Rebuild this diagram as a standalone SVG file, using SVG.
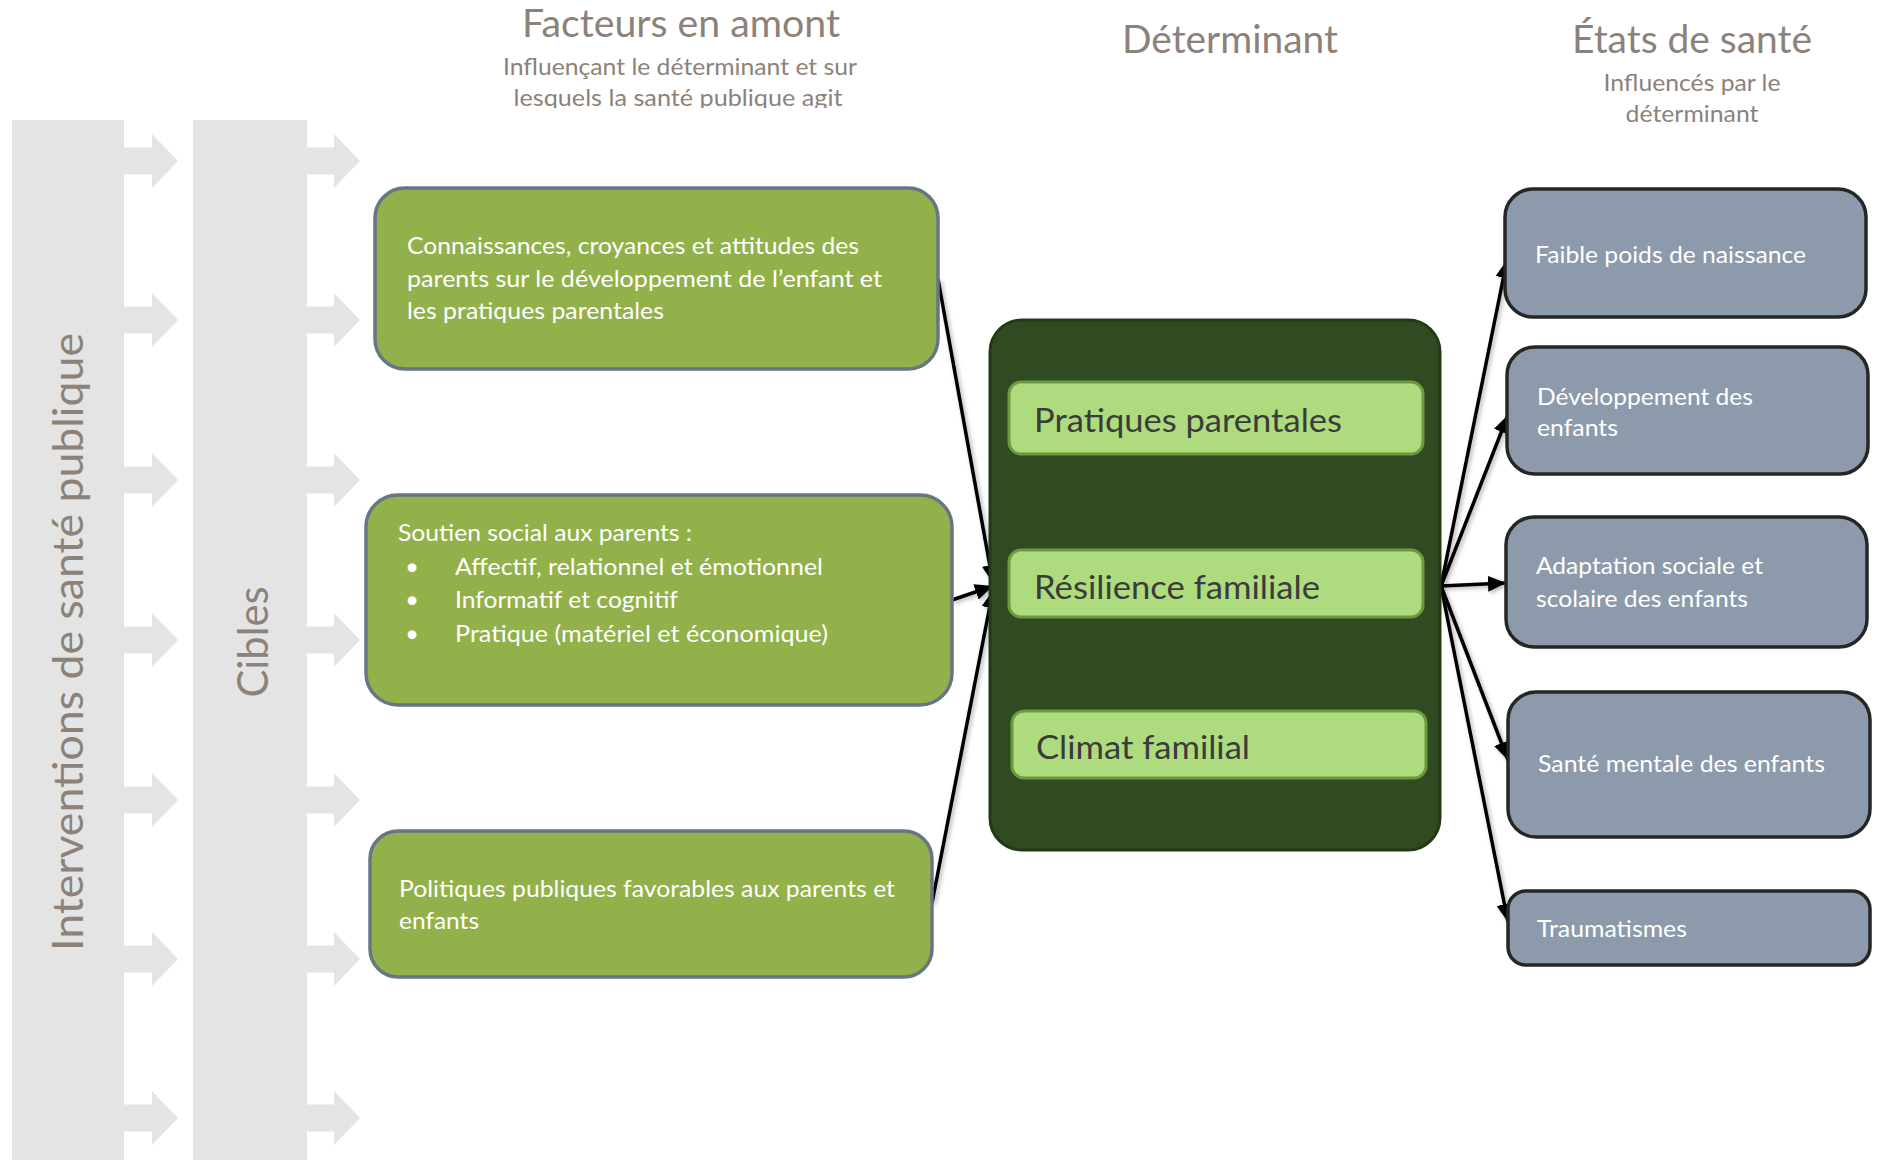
<svg xmlns="http://www.w3.org/2000/svg" width="1877" height="1160" viewBox="0 0 1877 1160">
  <style>
    .band { fill: #e4e4e4; }
    .title { font-family: Lato, "Open Sans", sans-serif; font-size: 38px; fill: #8c8279; text-anchor: middle; }
    .sub { font-family: Lato, "Open Sans", sans-serif; font-size: 23.5px; fill: #8c8279; text-anchor: middle; }
    .vert { font-family: Lato, "Open Sans", sans-serif; font-size: 42.5px; fill: #8c8279; text-anchor: middle; }
    .up { fill: #93b14a; stroke: #687585; stroke-width: 3.5; }
    .out { fill: #8d9aab; stroke: #262626; stroke-width: 3.5; }
    .det { fill: #304a21; stroke: #243a17; stroke-width: 3; }
    .inner { fill: #addb7d; stroke: #6c9a3e; stroke-width: 3; }
    .wt { font-family: Lato, "Open Sans", sans-serif; font-size: 23.5px; fill: #ffffff; }
    .dt { font-family: Lato, "Open Sans", sans-serif; font-size: 33px; fill: #3b3b3b; }
    .link { fill: none; stroke: #000000; stroke-width: 3.5; marker-end: url(#head); }
  </style>
  <defs>
    <marker id="head" markerUnits="userSpaceOnUse" markerWidth="20" markerHeight="16" refX="18" refY="8" orient="auto">
      <path d="M0,0 L18,8 L0,16 z" fill="#000000"/>
    </marker>
    <filter id="shade" x="-20%" y="-20%" width="140%" height="140%">
      <feDropShadow dx="2" dy="2" stdDeviation="2" flood-color="#000000" flood-opacity="0.3"/>
    </filter>
    <clipPath id="subclip">
      <rect x="400" y="0" width="560" height="108"/>
    </clipPath>
  </defs>

  <rect width="1877" height="1160" fill="#ffffff"/>

  <!-- Interventions band with its arrows -->
  <g id="interventions">
    <path class="band" d="M12,120 H124 V1160 H12 Z
      M124,147.5 H152 V134 L178,161 L152,188 V174.5 H124 Z
      M124,306.5 H152 V293 L178,320 L152,347 V333.5 H124 Z
      M124,466.5 H152 V453 L178,480 L152,507 V493.5 H124 Z
      M124,626.5 H152 V613 L178,640 L152,667 V653.5 H124 Z
      M124,786.5 H152 V773 L178,800 L152,827 V813.5 H124 Z
      M124,945.5 H152 V932 L178,959 L152,986 V972.5 H124 Z
      M124,1104.5 H152 V1091 L178,1118 L152,1145 V1131.5 H124 Z"/>
    <text class="vert" transform="translate(83,642) rotate(-90)" textLength="618" lengthAdjust="spacingAndGlyphs">Interventions de santé publique</text>
  </g>

  <!-- Cibles band with its arrows -->
  <g id="cibles">
    <path class="band" d="M193,120 H307 V1160 H193 Z
      M307,147.5 H334 V134 L360,161 L334,188 V174.5 H307 Z
      M307,306.5 H334 V293 L360,320 L334,347 V333.5 H307 Z
      M307,466.5 H334 V453 L360,480 L334,507 V493.5 H307 Z
      M307,626.5 H334 V613 L360,640 L334,667 V653.5 H307 Z
      M307,786.5 H334 V773 L360,800 L334,827 V813.5 H307 Z
      M307,945.5 H334 V932 L360,959 L334,986 V972.5 H307 Z
      M307,1104.5 H334 V1091 L360,1118 L334,1145 V1131.5 H307 Z"/>
    <text class="vert" transform="translate(268,642) rotate(-90)" textLength="111" lengthAdjust="spacingAndGlyphs">Cibles</text>
  </g>

  <!-- Column headings -->
  <g id="head-facteurs">
    <text class="title" x="681" y="37" textLength="318" lengthAdjust="spacingAndGlyphs">Facteurs en amont</text>
    <g clip-path="url(#subclip)">
      <text class="sub" x="680" y="75" textLength="354" lengthAdjust="spacingAndGlyphs">Influençant le déterminant et sur</text>
      <text class="sub" x="678" y="106" textLength="329" lengthAdjust="spacingAndGlyphs">lesquels la santé publique agit</text>
    </g>
  </g>
  <g id="head-determinant">
    <text class="title" x="1230" y="53" textLength="216" lengthAdjust="spacingAndGlyphs">Déterminant</text>
  </g>
  <g id="head-etats">
    <text class="title" x="1692" y="53" textLength="240" lengthAdjust="spacingAndGlyphs">États de santé</text>
    <text class="sub" x="1692" y="91" textLength="177" lengthAdjust="spacingAndGlyphs">Influencés par le</text>
    <text class="sub" x="1692" y="122" textLength="133" lengthAdjust="spacingAndGlyphs">déterminant</text>
  </g>

  <!-- Connectors -->
  <g id="connectors" filter="url(#shade)">
    <line class="link" x1="938" y1="279" x2="993" y2="583"/>
    <line class="link" x1="952" y1="600" x2="993" y2="586"/>
    <line class="link" x1="932" y1="903" x2="993" y2="590"/>
    <line class="link" x1="1441" y1="586" x2="1507" y2="260"/>
    <line class="link" x1="1441" y1="586" x2="1508" y2="415"/>
    <line class="link" x1="1441" y1="586" x2="1506" y2="583"/>
    <line class="link" x1="1441" y1="586" x2="1508" y2="760"/>
    <line class="link" x1="1441" y1="586" x2="1508" y2="922"/>
  </g>

  <!-- Upstream factors -->
  <g id="connaissances">
    <rect class="up" x="375" y="188" width="563" height="181" rx="30"/>
    <text class="wt" x="407" y="254" textLength="452" lengthAdjust="spacingAndGlyphs">Connaissances, croyances et attitudes des</text>
    <text class="wt" x="407" y="287" textLength="475" lengthAdjust="spacingAndGlyphs">parents sur le développement de l’enfant et</text>
    <text class="wt" x="407" y="319" textLength="257" lengthAdjust="spacingAndGlyphs">les pratiques parentales</text>
  </g>
  <g id="soutien">
    <rect class="up" x="366" y="495" width="586" height="210" rx="32"/>
    <text class="wt" x="398" y="541" textLength="294" lengthAdjust="spacingAndGlyphs">Soutien social aux parents :</text>
    <text class="wt" x="412" y="575" text-anchor="middle">•</text>
    <text class="wt" x="412" y="608" text-anchor="middle">•</text>
    <text class="wt" x="412" y="642" text-anchor="middle">•</text>
    <text class="wt" x="455" y="575" textLength="368" lengthAdjust="spacingAndGlyphs">Affectif, relationnel et émotionnel</text>
    <text class="wt" x="455" y="608" textLength="223" lengthAdjust="spacingAndGlyphs">Informatif et cognitif</text>
    <text class="wt" x="455" y="642" textLength="373" lengthAdjust="spacingAndGlyphs">Pratique (matériel et économique)</text>
  </g>
  <g id="politiques">
    <rect class="up" x="370" y="831" width="562" height="146" rx="28"/>
    <text class="wt" x="399" y="897" textLength="496" lengthAdjust="spacingAndGlyphs">Politiques publiques favorables aux parents et</text>
    <text class="wt" x="399" y="929" textLength="80" lengthAdjust="spacingAndGlyphs">enfants</text>
  </g>

  <!-- Determinant -->
  <g id="determinant">
    <rect class="det" x="990" y="320" width="450" height="530" rx="32"/>
    <g id="pratiques">
      <rect class="inner" x="1009" y="382" width="414" height="72" rx="12"/>
      <text class="dt" x="1034" y="432" textLength="308" lengthAdjust="spacingAndGlyphs">Pratiques parentales</text>
    </g>
    <g id="resilience">
      <rect class="inner" x="1009" y="550" width="414" height="67" rx="12"/>
      <text class="dt" x="1034" y="599" textLength="286" lengthAdjust="spacingAndGlyphs">Résilience familiale</text>
    </g>
    <g id="climat">
      <rect class="inner" x="1012" y="711" width="414" height="67" rx="12"/>
      <text class="dt" x="1036" y="759" textLength="214" lengthAdjust="spacingAndGlyphs">Climat familial</text>
    </g>
  </g>

  <!-- Health outcomes -->
  <g id="faible-poids">
    <rect class="out" x="1505" y="189" width="361" height="128" rx="28"/>
    <text class="wt" x="1535" y="263" textLength="271" lengthAdjust="spacingAndGlyphs">Faible poids de naissance</text>
  </g>
  <g id="developpement">
    <rect class="out" x="1507" y="347" width="361" height="127" rx="28"/>
    <text class="wt" x="1537" y="405" textLength="216" lengthAdjust="spacingAndGlyphs">Développement des</text>
    <text class="wt" x="1537" y="436" textLength="81" lengthAdjust="spacingAndGlyphs">enfants</text>
  </g>
  <g id="adaptation">
    <rect class="out" x="1506" y="517" width="361" height="130" rx="28"/>
    <text class="wt" x="1536" y="574" textLength="227" lengthAdjust="spacingAndGlyphs">Adaptation sociale et</text>
    <text class="wt" x="1536" y="607" textLength="212" lengthAdjust="spacingAndGlyphs">scolaire des enfants</text>
  </g>
  <g id="sante-mentale">
    <rect class="out" x="1508" y="692" width="362" height="145" rx="28"/>
    <text class="wt" x="1538" y="772" textLength="287" lengthAdjust="spacingAndGlyphs">Santé mentale des enfants</text>
  </g>
  <g id="traumatismes">
    <rect class="out" x="1508" y="891" width="362" height="74" rx="18"/>
    <text class="wt" x="1537" y="937" textLength="150" lengthAdjust="spacingAndGlyphs">Traumatismes</text>
  </g>
</svg>
